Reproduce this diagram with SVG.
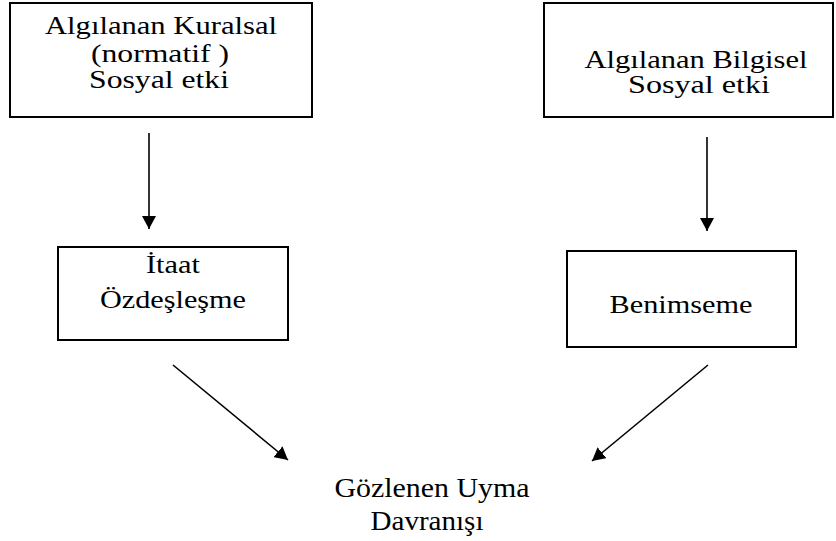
<svg xmlns="http://www.w3.org/2000/svg" width="836" height="541" viewBox="0 0 836 541">
  <style>
    .box { fill: #fff; stroke: #000; stroke-width: 2; }
    .lbl { font-family: "Liberation Serif", "Times New Roman", serif; font-size: 25px; fill: #000; text-anchor: middle; }
    .big { font-size: 28px; }
    .edge { stroke: #000; stroke-width: 1.6; fill: none; marker-end: url(#head); }
  </style>
  <defs>
    <marker id="head" viewBox="0 0 13 14" refX="13" refY="7" markerWidth="13" markerHeight="14" markerUnits="userSpaceOnUse" orient="auto">
      <path d="M0,0 L13,7 L0,14 z" fill="#000"/>
    </marker>
  </defs>
  <rect width="836" height="541" fill="#fff"/>

  <g id="normative">
    <rect class="box" x="10" y="3" width="302" height="114"/>
    <text class="lbl" x="161" y="34" textLength="232" lengthAdjust="spacingAndGlyphs">Algılanan Kuralsal</text>
    <text class="lbl" x="160" y="62" textLength="138" lengthAdjust="spacingAndGlyphs">(normatif )</text>
    <text class="lbl" x="159" y="88" textLength="140" lengthAdjust="spacingAndGlyphs">Sosyal etki</text>
  </g>

  <g id="informational">
    <rect class="box" x="544" y="3" width="289" height="114"/>
    <text class="lbl" x="696" y="68" textLength="223" lengthAdjust="spacingAndGlyphs">Algılanan Bilgisel</text>
    <text class="lbl" x="699" y="93" textLength="142" lengthAdjust="spacingAndGlyphs">Sosyal etki</text>
  </g>

  <g id="compliance">
    <rect class="box" x="58" y="247" width="230" height="93"/>
    <text class="lbl" x="173" y="273" textLength="54" lengthAdjust="spacingAndGlyphs">İtaat</text>
    <text class="lbl" x="173" y="308" textLength="146" lengthAdjust="spacingAndGlyphs">Özdeşleşme</text>
  </g>

  <g id="internalization">
    <rect class="box" x="567" y="251" width="229" height="96"/>
    <text class="lbl" x="681" y="313" textLength="143" lengthAdjust="spacingAndGlyphs">Benimseme</text>
  </g>

  <g id="behaviour">
    <text class="lbl big" x="432" y="497" textLength="195" lengthAdjust="spacingAndGlyphs">Gözlenen Uyma</text>
    <text class="lbl big" x="427" y="530" textLength="113" lengthAdjust="spacingAndGlyphs">Davranışı</text>
  </g>

  <g id="connectors">
    <line class="edge" x1="149" y1="133" x2="149" y2="229"/>
    <line class="edge" x1="707" y1="137" x2="707" y2="231"/>
    <line class="edge" x1="173" y1="365" x2="288" y2="460"/>
    <line class="edge" x1="708" y1="365" x2="592" y2="461"/>
  </g>
</svg>
